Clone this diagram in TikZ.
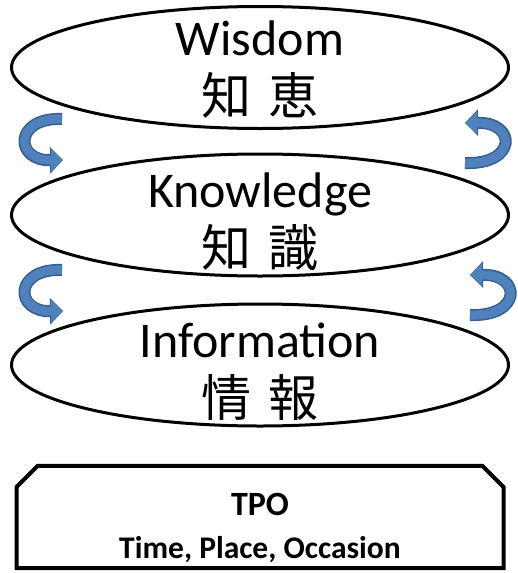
\documentclass[tikz,border=0pt]{standalone}
\usepackage{fontspec}
\setmainfont{Carlito}
\newfontfamily\cjk{Noto Sans CJK JP}
\usepackage{tikz}
\usetikzlibrary{positioning, shapes.geometric, shapes.misc, arrows.meta}
\usepackage{xcolor}

\definecolor{swirlblue}{RGB}{79,129,189}
\definecolor{swirledge}{RGB}{56,93,138}

\begin{document}
\begin{tikzpicture}[
    x=1pt, y=-1pt,
    layer/.style={ellipse, draw, line width=3pt, minimum width=497pt, minimum height=122pt, inner sep=0pt},
    layertext/.style={align=center, anchor=base, inner sep=0pt, font=\fontsize{50}{59}\selectfont},
    tpobox/.style={chamfered rectangle, chamfered rectangle corners={north west, north east},
        chamfered rectangle xsep=18pt, draw, line width=4pt, minimum width=487pt, minimum height=96pt,
        text height=89pt, text depth=7pt,
        align=center, font=\bfseries\fontsize{31.5}{43}\selectfont, inner sep=0pt},
    swirl/.style={line width=9pt, draw=swirlblue, -{Triangle[length=12pt,width=22pt]},
        preaction={draw=swirledge, line width=12pt, -{Triangle[length=13pt,width=26pt]}}}
]
    \useasboundingbox (0,0) rectangle (518,573);

    % Define nodes
    \node[layer] (wisdom) at (260,67.5) {};
    \node[layer] (knowledge) at (260,215) {};
    \node[layer] (information) at (260,365) {};
    \node[layertext] (wisdomtext) at (260,114) {Wisdom\\{\cjk 知\hspace{17pt}恵}};
    \node[layertext] (knowledgetext) at (260,266) {Knowledge\\{\cjk 知\hspace{17pt}識}};
    \node[layertext] (informationtext) at (260,416) {Information\\{\cjk 情\hspace{17pt}報}};
    \node[tpobox] (tpo) at (260,517) {{\fontsize{34}{43}\selectfont TPO}\\Time, Place, Occasion};

    % Arrow ends
    \coordinate (wl1) at (62,119);  \coordinate (wl2) at (63,160);
    \coordinate (wr1) at (465,163); \coordinate (wr2) at (465,123);
    \coordinate (kl1) at (62,270);  \coordinate (kl2) at (63,311);
    \coordinate (kr1) at (470,315); \coordinate (kr2) at (470,275);

    % Swirls
    \draw[swirl] (wl1) .. controls (14,117) and (14,161) .. (wl2);
    \draw[swirl] (wr1) .. controls (517,165) and (517,122) .. (wr2);
    \draw[swirl] (kl1) .. controls (14,268) and (14,312) .. (kl2);
    \draw[swirl] (kr1) .. controls (522,317) and (522,274) .. (kr2);
\end{tikzpicture}
\end{document}
